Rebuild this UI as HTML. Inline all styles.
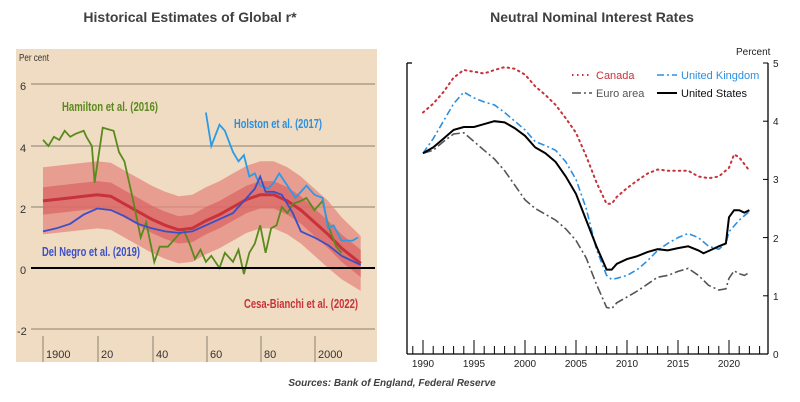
<!DOCTYPE html>
<html><head><meta charset="utf-8"><style>
html,body{margin:0;padding:0;background:#fff;width:800px;height:402px;overflow:hidden}
svg{display:block}
text{font-family:"Liberation Sans",sans-serif}
</style></head><body>
<svg id="s" width="800" height="402" xmlns="http://www.w3.org/2000/svg">
<text x="190" y="22" font-size="14" font-weight="bold" fill="#404040" text-anchor="middle">Historical  Estimates  of  Global  r*</text>
<text x="592" y="22" font-size="14" font-weight="bold" fill="#404040" text-anchor="middle">Neutral  Nominal  Interest Rates</text>
<text x="392" y="386" font-size="10" font-weight="bold" font-style="italic" fill="#404040" text-anchor="middle">Sources: Bank of England, Federal Reserve</text>
<!-- left chart -->
<rect x="16" y="49" width="361" height="313" fill="#f0dcc2"/>
<g stroke="#8a8070" stroke-width="1">
<line x1="31" x2="375" y1="84" y2="84"/><line x1="31" x2="375" y1="146" y2="146"/><line x1="31" x2="375" y1="207" y2="207"/><line x1="31" x2="375" y1="329" y2="329"/>
<line x1="43" x2="43" y1="336" y2="362"/><line x1="98" x2="98" y1="336" y2="362"/><line x1="153" x2="153" y1="336" y2="362"/><line x1="207" x2="207" y1="336" y2="362"/><line x1="261" x2="261" y1="336" y2="362"/><line x1="315" x2="315" y1="336" y2="362"/>
</g>
<g id="L"></g>
<line x1="31" x2="375" y1="268" y2="268" stroke="#000" stroke-width="2"/>
<g font-size="11" fill="#333">
<text x="19" y="61" font-size="10" textLength="30" lengthAdjust="spacingAndGlyphs">Per cent</text>
<text x="20" y="90">6</text><text x="20" y="152">4</text><text x="20" y="213">2</text><text x="20" y="274">0</text><text x="17" y="335">-2</text>
<text x="46" y="358">1900</text><text x="101" y="358">20</text><text x="156" y="358">40</text><text x="210" y="358">60</text><text x="264" y="358">80</text><text x="318" y="358">2000</text>
</g>
<g font-size="13" font-weight="bold">
<text x="62" y="111" fill="#5a8a1e" textLength="96" lengthAdjust="spacingAndGlyphs">Hamilton et al. (2016)</text>
<text x="234" y="128" fill="#2b8fe0" textLength="88" lengthAdjust="spacingAndGlyphs">Holston et al. (2017)</text>
<text x="42" y="256" fill="#3a4fc8" textLength="98" lengthAdjust="spacingAndGlyphs">Del Negro et al. (2019)</text>
<text x="244" y="308" fill="#c8323a" textLength="114" lengthAdjust="spacingAndGlyphs">Cesa-Bianchi et al. (2022)</text>
</g>
<!-- right chart -->
<g stroke="#000" stroke-width="1.3" fill="none">
<line x1="407" y1="63" x2="407" y2="354"/><line x1="768" y1="63" x2="768" y2="354"/><line x1="407" y1="354" x2="768" y2="354"/>
<line x1="407" y1="63" x2="412" y2="63"/>
</g>
<g id="R"></g>
<g font-size="10" fill="#222">
<text x="736" y="55">Percent</text>
<text x="773" y="67">5</text><text x="773" y="125">4</text><text x="773" y="183">3</text><text x="773" y="242">2</text><text x="773" y="300">1</text><text x="773" y="358">0</text>
<text x="423" y="367" text-anchor="middle">1990</text><text x="474" y="367" text-anchor="middle">1995</text><text x="525" y="367" text-anchor="middle">2000</text><text x="576" y="367" text-anchor="middle">2005</text><text x="627" y="367" text-anchor="middle">2010</text><text x="678" y="367" text-anchor="middle">2015</text><text x="729" y="367" text-anchor="middle">2020</text>
</g>
<g font-size="11">
<text x="596" y="79" fill="#c8323a">Canada</text>
<text x="681" y="79" fill="#2b8fe0">United Kingdom</text>
<text x="596" y="97" fill="#555">Euro area</text>
<text x="681" y="97" fill="#111">United States</text>
</g>
<g stroke-width="1.6" fill="none">
<line x1="572" y1="75" x2="592" y2="75" stroke="#c8323a" stroke-dasharray="1.5,3.5" stroke-width="2"/>
<line x1="657" y1="75" x2="677" y2="75" stroke="#2b8fe0" stroke-dasharray="7,3,2,3"/>
<line x1="572" y1="93" x2="592" y2="93" stroke="#555" stroke-dasharray="9,3,2,3"/>
<line x1="657" y1="93" x2="677" y2="93" stroke="#000" stroke-width="2"/>
</g>
</svg>
<script>
var NS="http://www.w3.org/2000/svg";
function el(p,t,a){var e=document.createElementNS(NS,t);for(var k in a)e.setAttribute(k,a[k]);document.getElementById(p).appendChild(e);return e;}
function pts(d,fx,fy){return d.map(function(q){return fx(q[0]).toFixed(1)+","+fy(q[1]).toFixed(1)}).join(" ");}
var lx=function(y){return 43+(y-1900)*2.715}, ly=function(v){return 268-v*30.5};
var red=[[1900,2.2],[1905,2.25],[1910,2.3],[1915,2.35],[1920,2.4],[1925,2.35],[1930,2.1],[1935,1.85],[1940,1.6],[1945,1.4],[1950,1.25],[1955,1.3],[1960,1.55],[1965,1.75],[1970,2.0],[1975,2.25],[1980,2.4],[1985,2.4],[1990,2.2],[1995,1.9],[2000,1.5],[2005,1.1],[2010,0.65],[2017,0.15]];
function band(w,wEnd){var up=red.map(function(q){var ww=q[0]>2005?w+(wEnd-w)*(q[0]-2005)/12:w;return [q[0],q[1]+ww]});var dn=red.map(function(q){var ww=q[0]>2005?w+(wEnd-w)*(q[0]-2005)/12:w;return [q[0],q[1]-ww]}).reverse();return pts(up.concat(dn),lx,ly);}
el("L","polygon",{points:band(1.1,0.9),fill:"#e48a80","fill-opacity":"0.75"});
el("L","polygon",{points:band(0.45,0.45),fill:"#d8585a","fill-opacity":"0.6"});
var green=[[1900,4.2],[1902,4.0],[1904,4.3],[1906,4.2],[1908,4.5],[1910,4.3],[1912,4.4],[1915,4.5],[1916,4.3],[1918,4.0],[1919,2.8],[1922,4.6],[1926,4.5],[1928,3.8],[1930,3.5],[1933,2.3],[1936,1.0],[1938,1.5],[1941,0.2],[1943,0.7],[1946,0.7],[1948,0.9],[1950,1.1],[1952,1.2],[1954,0.8],[1956,0.3],[1958,0.6],[1960,0.2],[1962,0.4],[1965,0.0],[1967,0.5],[1970,0.2],[1972,0.6],[1974,-0.2],[1976,0.5],[1978,0.8],[1980,1.4],[1982,0.5],[1984,1.3],[1986,1.4],[1988,2.0],[1990,1.8],[1992,2.1],[1995,2.2],[1997,2.3],[2000,1.9],[2003,2.2],[2005,1.4],[2008,0.7],[2010,0.5]];
var dn=[[1900,1.2],[1905,1.3],[1910,1.45],[1915,1.75],[1920,1.95],[1925,1.9],[1930,1.7],[1935,1.45],[1940,1.3],[1945,1.2],[1950,1.15],[1955,1.2],[1960,1.4],[1965,1.6],[1970,1.8],[1975,2.3],[1978,2.6],[1980,3.0],[1982,2.5],[1985,2.5],[1988,2.4],[1992,1.8],[1995,1.2],[2000,1.0],[2005,0.75],[2010,0.4],[2017,0.1]];
var hol=[[1960,5.1],[1962,4.0],[1965,4.7],[1967,4.5],[1970,3.8],[1972,3.5],[1974,3.7],[1976,3.0],[1978,3.1],[1980,2.7],[1983,2.6],[1985,2.8],[1987,3.1],[1990,2.7],[1993,2.3],[1997,2.7],[2000,2.4],[2003,2.3],[2005,1.3],[2007,1.4],[2010,0.9],[2014,0.9],[2016,1.0]];
el("L","polyline",{points:pts(red,lx,ly),fill:"none",stroke:"#c8323a","stroke-width":"3"});
el("L","polyline",{points:pts(green,lx,ly),fill:"none",stroke:"#5a8a1e","stroke-width":"1.8"});
el("L","polyline",{points:pts(hol,lx,ly),fill:"none",stroke:"#2b9be8","stroke-width":"1.8"});
el("L","polyline",{points:pts(dn,lx,ly),fill:"none",stroke:"#3a4fc8","stroke-width":"1.8"});
for(var y=1989;y<=2023;y++){var x=423+(y-1990)*10.2;var big=(y%5==0);el("R","line",{x1:x,x2:x,y1:big?340:346,y2:354,stroke:"#000","stroke-width":"1"});}
for(var v=0;v<=5;v++){var yy=354-v*58.2;el("R","line",{x1:763,x2:768,y1:yy,y2:yy,stroke:"#000","stroke-width":"1"});}
var rx=function(y){return 423+(y-1990)*10.2}, ry=function(v){return 354-v*58.2};
var us=[[1990,3.45],[1991,3.55],[1992,3.7],[1993,3.85],[1994,3.9],[1995,3.9],[1996,3.95],[1997,4.0],[1998,3.98],[1999,3.88],[2000,3.75],[2001,3.55],[2002,3.45],[2003,3.3],[2004,3.05],[2005,2.75],[2006,2.3],[2007,1.85],[2008,1.45],[2008.5,1.45],[2009,1.55],[2010,1.63],[2011,1.68],[2012,1.75],[2013,1.8],[2014,1.78],[2015,1.82],[2016,1.85],[2017,1.78],[2017.5,1.73],[2018,1.77],[2019,1.85],[2019.7,1.9],[2020,2.35],[2020.5,2.47],[2021,2.47],[2021.5,2.43],[2022,2.47]];
var uk=[[1990,3.45],[1991,3.7],[1992,4.0],[1993,4.3],[1994,4.5],[1995,4.4],[1996,4.33],[1997,4.28],[1998,4.15],[1999,4.0],[2000,3.85],[2001,3.65],[2002,3.58],[2003,3.5],[2004,3.3],[2005,3.0],[2006,2.5],[2007,1.8],[2008,1.35],[2008.5,1.28],[2009,1.3],[2010,1.35],[2011,1.45],[2012,1.6],[2013,1.78],[2014,1.9],[2015,2.0],[2016,2.07],[2017,2.0],[2018,1.85],[2019,1.8],[2019.7,1.9],[2020,2.1],[2021,2.3],[2022,2.45]];
var ca=[[1990,4.15],[1991,4.3],[1992,4.5],[1993,4.75],[1994,4.88],[1995,4.85],[1996,4.82],[1997,4.88],[1998,4.93],[1999,4.9],[2000,4.8],[2001,4.6],[2002,4.45],[2003,4.28],[2004,4.05],[2005,3.8],[2006,3.4],[2007,2.95],[2008,2.58],[2008.5,2.58],[2009,2.7],[2010,2.85],[2011,2.98],[2012,3.1],[2013,3.17],[2014,3.15],[2015,3.15],[2016,3.15],[2017,3.05],[2018,3.02],[2019,3.05],[2020,3.2],[2020.5,3.43],[2021,3.38],[2022,3.15]];
var eu=[[1990,3.45],[1991,3.5],[1992,3.65],[1993,3.78],[1994,3.8],[1995,3.65],[1996,3.5],[1997,3.35],[1998,3.15],[1999,2.9],[2000,2.65],[2001,2.5],[2002,2.4],[2003,2.3],[2004,2.15],[2005,1.95],[2006,1.65],[2007,1.2],[2008,0.8],[2008.5,0.78],[2009,0.88],[2010,0.98],[2011,1.08],[2012,1.2],[2013,1.32],[2014,1.35],[2015,1.42],[2016,1.47],[2017,1.35],[2018,1.18],[2019,1.1],[2019.7,1.12],[2020,1.3],[2020.5,1.43],[2021,1.38],[2021.5,1.35],[2022,1.4]];
el("R","polyline",{points:pts(ca,rx,ry),fill:"none",stroke:"#c8323a","stroke-width":"2","stroke-dasharray":"1.5,4","stroke-linecap":"round"});
el("R","polyline",{points:pts(eu,rx,ry),fill:"none",stroke:"#555","stroke-width":"1.6","stroke-dasharray":"9,3,2,3"});
el("R","polyline",{points:pts(uk,rx,ry),fill:"none",stroke:"#2b8fe0","stroke-width":"1.6","stroke-dasharray":"7,3,2,3"});
el("R","polyline",{points:pts(us,rx,ry),fill:"none",stroke:"#000","stroke-width":"2"});
</script>
</body></html>
